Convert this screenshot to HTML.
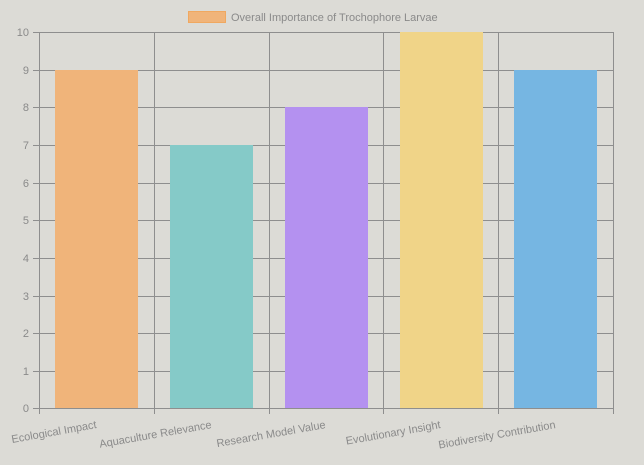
<!DOCTYPE html>
<html><head><style>body{margin:0;background:#dcdbd6}svg{display:block}</style></head><body>
<svg width="644" height="465" xmlns="http://www.w3.org/2000/svg" font-family="Liberation Sans, sans-serif">
<rect width="644" height="465" fill="#dcdbd6"/>
<rect x="188.5" y="11.5" width="37" height="11" fill="#f0b47a" stroke="#f0a860"/>
<text x="231" y="21" font-size="11" fill="#8a8a8a">Overall Importance of Trochophore Larvae</text>
<g stroke="#8e8e8e" stroke-width="1">
<line x1="33" y1="32.5" x2="613" y2="32.5"/><line x1="33" y1="70.5" x2="613" y2="70.5"/>
<line x1="33" y1="107.5" x2="613" y2="107.5"/><line x1="33" y1="145.5" x2="613" y2="145.5"/>
<line x1="33" y1="183.5" x2="613" y2="183.5"/><line x1="33" y1="220.5" x2="613" y2="220.5"/>
<line x1="33" y1="258.5" x2="613" y2="258.5"/><line x1="33" y1="296.5" x2="613" y2="296.5"/>
<line x1="33" y1="333.5" x2="613" y2="333.5"/><line x1="33" y1="371.5" x2="613" y2="371.5"/>
<line x1="33" y1="408.5" x2="613" y2="408.5"/>
<line x1="39.5" y1="32" x2="39.5" y2="414"/><line x1="154.5" y1="32" x2="154.5" y2="414"/>
<line x1="269.5" y1="32" x2="269.5" y2="414"/><line x1="383.5" y1="32" x2="383.5" y2="414"/>
<line x1="498.5" y1="32" x2="498.5" y2="414"/><line x1="613.5" y1="32" x2="613.5" y2="414"/>
</g>
<rect x="55" y="70" width="83" height="338" fill="#f0b47a"/>
<rect x="170" y="145" width="83" height="263" fill="#85cac8"/>
<rect x="285" y="107" width="83" height="301" fill="#b491f0"/>
<rect x="400" y="32" width="83" height="376" fill="#f0d488"/>
<rect x="514" y="70" width="83" height="338" fill="#76b6e2"/>
<g font-size="11" fill="#8a8a8a" text-anchor="end">
<text x="29" y="36">10</text><text x="29" y="74">9</text><text x="29" y="111">8</text>
<text x="29" y="149">7</text><text x="29" y="187">6</text><text x="29" y="224">5</text>
<text x="29" y="262">4</text><text x="29" y="300">3</text><text x="29" y="337">2</text>
<text x="29" y="375">1</text><text x="29" y="412">0</text>
<text transform="translate(97,428) rotate(-10)">Ecological Impact</text>
<text transform="translate(212,428) rotate(-10)">Aquaculture Relevance</text>
<text transform="translate(326,428) rotate(-10)">Research Model Value</text>
<text transform="translate(441,428) rotate(-10)">Evolutionary Insight</text>
<text transform="translate(556,428) rotate(-10)">Biodiversity Contribution</text>
</g>
</svg>
</body></html>
